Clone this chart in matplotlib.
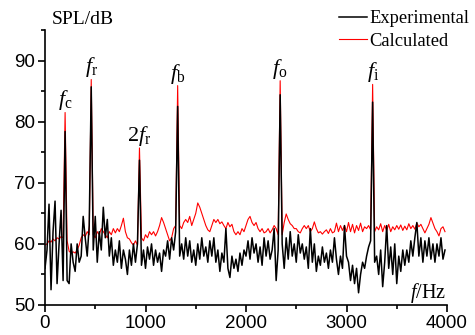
import numpy as np
import matplotlib
matplotlib.use("Agg")
import matplotlib.pyplot as plt
from matplotlib.ticker import MultipleLocator

plt.rcParams['mathtext.fontset'] = 'custom'
plt.rcParams['mathtext.rm'] = 'Liberation Serif'
plt.rcParams['mathtext.it'] = 'Liberation Serif:italic'

# frequency grid, 20 Hz step
freq = np.arange(0, 4000, 20)

# experimental SPL (dB), 5 values per 100 Hz
experimental = [
    56, 59, 66.5, 52.5, 62,      67, 53.5, 60, 65.5, 54,
    78.4, 54, 53.5, 60, 57,      55.5, 60, 57, 58, 64.5,
    61, 58, 63, 85.7, 59,        64.5, 57, 62, 59, 66,
    61, 64, 58, 61, 56.5,        59, 57, 60.5, 56, 59,
    57.5, 55, 59, 56.5, 60,      57, 60, 73.7, 56.5, 59,
    56, 59.5, 57.5, 60, 56.5,    59, 57, 58.5, 55.5, 59,
    58, 60.5, 57.5, 61, 59,      62, 82.5, 58, 60, 57.5,
    61, 58, 60.5, 57, 59,        56.5, 60, 57.5, 61, 58,
    59.5, 57, 60.5, 58, 61,      57, 59, 55.5, 58.5, 57,
    62.5, 56, 54.5, 58, 56,      57.5, 55.5, 58.5, 56.5, 59,
    58, 60.5, 57.5, 61, 58.5,    60, 57, 59.5, 56.5, 61,
    58, 60.5, 57.5, 59, 62.5,    54, 59, 84.4, 60, 56,
    61, 57.5, 62, 58, 60,        57, 61.5, 58.5, 60, 57.5,
    59.5, 56, 62.5, 57, 60,      55.5, 58, 56.5, 59.5, 57,
    58.5, 56, 59, 57, 61,        57.5, 55, 58, 56, 63,
    58, 57, 54, 56.5, 53.5,      56, 52, 55, 57, 56,
    58, 59.5, 60.5, 83.2, 57,    58, 55, 59, 53, 57,
    63, 56, 59.5, 55, 60,        53.5, 58, 55.5, 59, 56.5,
    59, 57, 60.5, 58, 61,        63.5, 58, 61, 57, 60.5,
    58, 61, 57.5, 60, 57,        60, 58, 61, 57.5, 59,
]

# calculated SPL (dB)
calculated = [
    59.8, 60, 60.5, 60.3, 60.8,  60.5, 61, 60.8, 61.2, 61,
    81.5, 60.5, 58.8, 58.5, 58.7, 58.5, 59, 59.8, 61, 61.5,
    61.2, 62, 61.5, 86.9, 61.5,  61, 62, 61.5, 62.5, 62,
    61.5, 61, 62, 61.5, 62.5,    61.8, 62.5, 62, 63, 64.2,
    62, 61, 60.8, 60.2, 59.8,    60.5, 59.8, 75.7, 61, 60.5,
    61.5, 61, 62, 61.5, 62,      61.3, 62, 63, 64.3, 63.5,
    62.5, 61.5, 60.5, 61, 62.5,  63, 85.9, 63, 62.5, 63.5,
    64, 63.5, 64.5, 63, 64,      65, 66.7, 66, 65, 64,
    63, 62.3, 62, 63, 64,        63.5, 64, 63.3, 63.6, 63,
    62.5, 63.5, 62.8, 63.2, 62,  61.5, 62, 61.5, 62.5, 62,
    63, 64, 64.5, 63.5, 63,      63.5, 62.5, 62, 62.5, 61.8,
    62, 62.5, 61.8, 62.3, 63,    62.5, 61.5, 86.7, 61.5, 63.5,
    64.9, 64, 63.3, 63, 62.5,    62.5, 62, 61.8, 62.5, 63,
    62.5, 63, 62, 62.5, 63.6,    62.5, 61.8, 62, 61.6, 62,
    62.3, 61.7, 62.5, 61.8, 62,  63.4, 62, 63, 62.2, 63,
    62, 63.5, 62, 63.2, 61.8,    63, 62.2, 63.4, 62, 62.8,
    62.5, 63, 62.3, 86.1, 62,    62.8, 62.3, 63.3, 62, 63,
    62.2, 63.2, 62, 62.8, 62.3,  63, 62.4, 63.1, 62.2, 62.9,
    62.3, 63.3, 62.5, 63, 62.4,  63.4, 62.8, 63.2, 62.5, 61.8,
    62.5, 63.2, 64.3, 63.4, 62.5, 62, 61.3, 62.5, 62.8, 62,
]

# characteristic frequencies and their labels
peak_freq = [200, 460, 940, 1320, 2340, 3260]
peak_labels = [r'$f_{\mathrm{c}}$', r'$f_{\mathrm{r}}$', r'$2f_{\mathrm{r}}$',
               r'$f_{\mathrm{b}}$', r'$f_{\mathrm{o}}$', r'$f_{\mathrm{i}}$']

fig = plt.figure(figsize=(4.75, 3.35), dpi=100)
ax = fig.add_axes([45 / 475, 30 / 335, 402 / 475, 275 / 335])

ax.plot(freq, calculated, color='red', lw=0.8, label='Calculated')
ax.plot(freq, experimental, color='black', lw=1.1, label='Experimental')

for f, lab in zip(peak_freq, peak_labels):
    top = calculated[list(freq).index(f)]
    ax.text(f, top, lab, ha='center', va='bottom', fontsize=16)

ax.set_xlim(0, 4000)
ax.set_ylim(50, 95)
ax.set_yticks([50, 60, 70, 80, 90])
ax.xaxis.set_major_locator(MultipleLocator(1000))
ax.xaxis.set_minor_locator(MultipleLocator(500))
ax.yaxis.set_minor_locator(MultipleLocator(5))
ax.tick_params(which='both', direction='out', width=1.2)
ax.tick_params(which='major', length=5, labelsize=13.5, pad=2)
ax.tick_params(which='minor', length=3)
for lbl in ax.get_xticklabels() + ax.get_yticklabels():
    lbl.set_fontfamily('Liberation Sans')
for s in ['top', 'right']:
    ax.spines[s].set_visible(False)
for s in ['left', 'bottom']:
    ax.spines[s].set_linewidth(1.2)

fig.text(52 / 475, 1 - 20 / 335, 'SPL/dB', family='Liberation Serif',
         fontsize=14, va='center', ha='left')
ax.text(3995, 51.2, r'$f$/Hz', family='Liberation Serif', fontsize=14.5,
        ha='right', va='baseline')

h, l = ax.get_legend_handles_labels()
leg = fig.legend(h[::-1], l[::-1], loc='upper left',
                 bbox_to_anchor=(339 / 475, 1 - 10 / 335),
                 frameon=False, prop={'family': 'Liberation Serif', 'size': 13.3},
                 handlelength=1.5, handletextpad=0.12, labelspacing=0.3,
                 borderaxespad=0, borderpad=0)

fig.savefig('out.png', dpi=100)
